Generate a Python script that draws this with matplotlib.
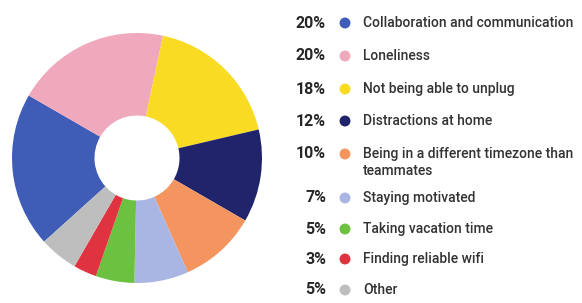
import matplotlib
matplotlib.use("Agg")
import matplotlib.pyplot as plt

labels = ["Collaboration and communication", "Loneliness", "Not being able to unplug",
          "Distractions at home", "Being in a different timezone than\nteammates",
          "Staying motivated", "Taking vacation time", "Finding reliable wifi", "Other"]
values = [20, 20, 18, 12, 10, 7, 5, 3, 5]
colors = ["#3F5DB6", "#F0A8BC", "#F8DB22", "#20246A", "#F4955F",
          "#A9B5E2", "#6CC141", "#DF3440", "#BEBEBE"]

W, H = 582, 303
fig = plt.figure(figsize=(W / 100, H / 100), dpi=100)
fig.patch.set_facecolor("white")

cx, cy, r = 137, 158, 125
ax = fig.add_axes([(cx - r) / W, (H - cy - r) / H, 2 * r / W, 2 * r / H])
ax.pie(values, colors=colors, startangle=-138, counterclock=False, radius=1,
       wedgeprops=dict(width=0.66, linewidth=0))
ax.set_xlim(-1, 1)
ax.set_ylim(-1, 1)
ax.set_aspect("equal")
ax.axis("off")

lax = fig.add_axes([0, 0, 1, 1])
lax.set_xlim(0, W)
lax.set_ylim(H, 0)
lax.axis("off")

row_y = [23, 56, 89, 121, 154, 198, 229, 259, 290]
font = "Roboto"
for lab, v, c, y in zip(labels, values, colors, row_y):
    lax.text(326, y, f"{v}%", ha="right", va="center", fontsize=11.5,
             fontweight="bold", color="#262626", family=font)
    lax.scatter([345], [y], s=62, color=c, edgecolors="none")
    lines = lab.split("\n")
    for k, ln in enumerate(lines):
        lax.text(363, y + 17 * k, ln, ha="left", va="center", fontsize=10,
                 fontweight="medium", color="#333333", family=font)

fig.savefig("out.png", dpi=100, facecolor="white")
